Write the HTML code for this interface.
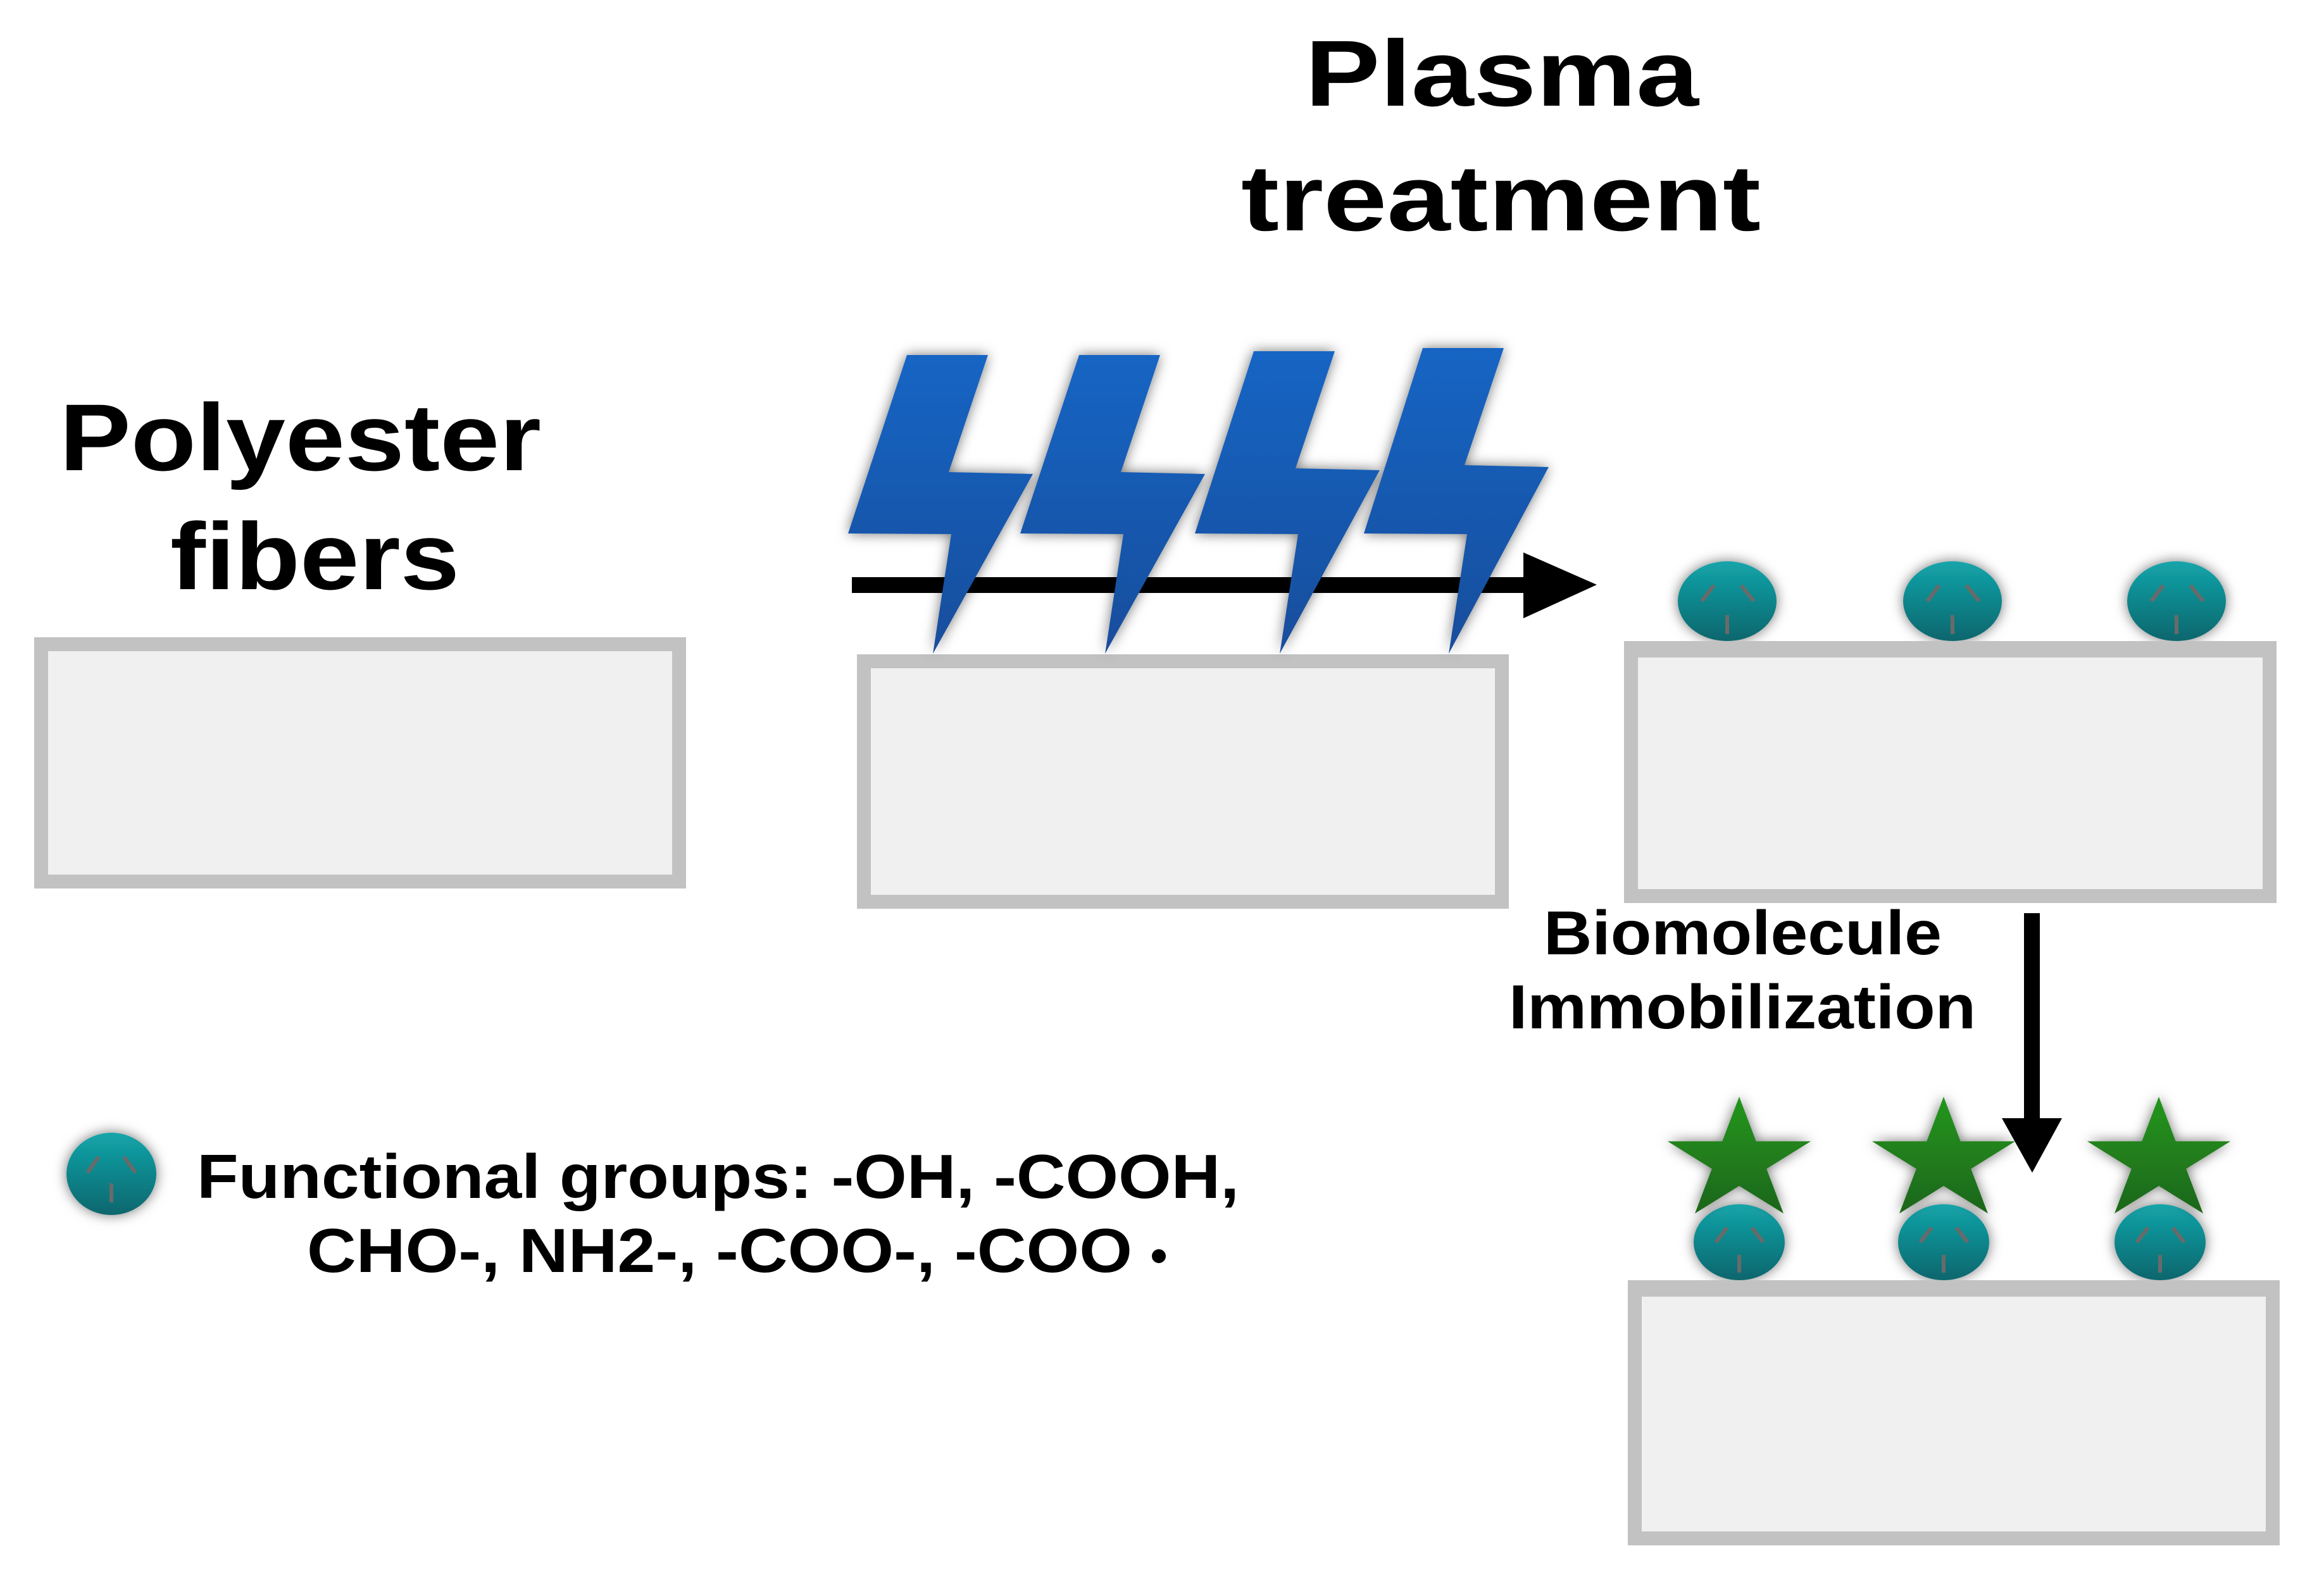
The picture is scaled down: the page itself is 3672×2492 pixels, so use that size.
<!DOCTYPE html>
<html><head><meta charset="utf-8"><style>html,body{margin:0;padding:0;background:#fff}svg{display:block}</style></head>
<body>
<svg width="3672" height="2492" viewBox="0 0 3672 2492" xmlns="http://www.w3.org/2000/svg">
<defs>
<linearGradient id="bolt" x1="0" y1="0" x2="0" y2="1"><stop offset="0" stop-color="#1565c4"/><stop offset="1" stop-color="#1a4d9c"/></linearGradient>
<linearGradient id="teal" x1="0" y1="0" x2="0" y2="1"><stop offset="0" stop-color="#13a5aa"/><stop offset="1" stop-color="#0a666d"/></linearGradient>
<linearGradient id="grn" x1="0" y1="0" x2="0" y2="1"><stop offset="0" stop-color="#23961f"/><stop offset="1" stop-color="#1e6619"/></linearGradient>
<filter id="sh" x="-30%" y="-30%" width="160%" height="160%"><feDropShadow dx="0" dy="0" stdDeviation="10" flood-color="#000" flood-opacity="0.55"/></filter>
<g id="mol">
<ellipse cx="0" cy="0" rx="1" ry="1" fill="url(#teal)"/>
</g>
</defs>

<!-- boxes -->
<g fill="#f0f0f0" stroke="#c2c2c2" stroke-width="22">
<rect x="65" y="1018" width="1008" height="375"/>
<rect x="1365" y="1045" width="1008" height="380"/>
<rect x="2577" y="1026" width="1009" height="390"/>
<rect x="2583" y="2036" width="1008" height="395"/>
</g>

<!-- molecules on box3 -->
<g filter="url(#sh)">
<ellipse cx="2729" cy="950" rx="78" ry="63" fill="url(#teal)"/>
<ellipse cx="3085" cy="950" rx="78" ry="63" fill="url(#teal)"/>
<ellipse cx="3439" cy="950" rx="78" ry="63" fill="url(#teal)"/>
</g>
<rect x="2566" y="1013" width="1031" height="26" fill="#c2c2c2"/>
<g stroke="#6a6a6a" stroke-width="6" stroke-linecap="butt">
<path d="M2708 925L2689 950M2751 925L2771 950M2729 972V1002"/>
<path d="M3064 925L3045 950M3107 925L3127 950M3085 972V1002"/>
<path d="M3418 925L3399 950M3461 925L3481 950M3439 972V1002"/>
</g>

<!-- arrow right -->
<rect x="1346" y="912" width="1066" height="25" fill="#000"/>
<polygon points="2407,873 2407,977 2523,924" fill="#000"/>

<!-- bolts -->
<g filter="url(#sh)" fill="url(#bolt)">
<polygon points="1433,561 1561,561 1499,746 1632,749 1474,1033 1503,844 1340,843"/>
<polygon transform="translate(272,0)" points="1433,561 1561,561 1499,746 1632,749 1474,1033 1503,844 1340,843"/>
<polygon transform="translate(548,-6)" points="1433,561 1561,561 1499,746 1632,749 1474,1039 1503,850 1340,849"/>
<polygon transform="translate(815,-11)" points="1433,561 1561,561 1499,746 1632,749 1474,1044 1503,855 1340,854"/>
</g>

<!-- molecules + stars on box4 -->
<g filter="url(#sh)">
<ellipse cx="2748" cy="1963" rx="72" ry="60" fill="url(#teal)"/>
<ellipse cx="3071" cy="1963" rx="72" ry="60" fill="url(#teal)"/>
<ellipse cx="3413" cy="1963" rx="72" ry="60" fill="url(#teal)"/>
</g>
<rect x="2572" y="2023" width="1030" height="26" fill="#c2c2c2"/>
<g stroke="#6a6a6a" stroke-width="6">
<path d="M2729 1940L2711 1963M2768 1940L2786 1963M2748 1983V2011"/>
<path d="M3052 1940L3034 1963M3091 1940L3109 1963M3071 1983V2011"/>
<path d="M3394 1940L3376 1963M3433 1940L3451 1963M3413 1983V2011"/>
</g>
<g filter="url(#sh)" fill="url(#grn)">
<polygon transform="translate(2748,1835) scale(119,102)" points="0,-1 0.2245,-0.309 0.951,-0.309 0.363,0.118 0.588,0.809 0,0.382 -0.588,0.809 -0.363,0.118 -0.951,-0.309 -0.2245,-0.309"/>
<polygon transform="translate(3071,1835) scale(119,102)" points="0,-1 0.2245,-0.309 0.951,-0.309 0.363,0.118 0.588,0.809 0,0.382 -0.588,0.809 -0.363,0.118 -0.951,-0.309 -0.2245,-0.309"/>
<polygon transform="translate(3411,1835) scale(119,102)" points="0,-1 0.2245,-0.309 0.951,-0.309 0.363,0.118 0.588,0.809 0,0.382 -0.588,0.809 -0.363,0.118 -0.951,-0.309 -0.2245,-0.309"/>
</g>

<!-- down arrow -->
<rect x="3198" y="1443" width="25" height="330" fill="#000"/>
<polygon points="3163,1767 3258,1767 3211,1853" fill="#000"/>

<!-- legend molecule -->
<ellipse cx="176" cy="1855" rx="71" ry="65" fill="url(#teal)" filter="url(#sh)"/>
<g stroke="#6a6a6a" stroke-width="6"><path d="M156 1828L138 1853M196 1828L214 1853M176 1870V1900"/></g>

<!-- text -->
<g font-family="Liberation Sans, Arial, sans-serif" font-weight="bold" fill="#000">
<text x="2062" y="167" font-size="148" textLength="622" lengthAdjust="spacingAndGlyphs">Plasma</text>
<text x="1961" y="364" font-size="148" textLength="821" lengthAdjust="spacingAndGlyphs">treatment</text>
<text x="94" y="743" font-size="150" textLength="761" lengthAdjust="spacingAndGlyphs">Polyester</text>
<text x="269" y="931" font-size="150" textLength="457" lengthAdjust="spacingAndGlyphs">fibers</text>
<text x="2439" y="1508" font-size="98" textLength="629" lengthAdjust="spacingAndGlyphs">Biomolecule</text>
<text x="2384" y="1625" font-size="98" textLength="738" lengthAdjust="spacingAndGlyphs">Immobilization</text>
<text x="311" y="1893" font-size="98" textLength="1647" lengthAdjust="spacingAndGlyphs">Functional groups: -OH, -COOH,</text>
<text x="485" y="2010" font-size="98" textLength="1304" lengthAdjust="spacingAndGlyphs">CHO-, NH2-, -COO-, -COO</text>
<circle cx="1831" cy="1985" r="11" fill="#000"/>
</g>
</svg>
</body></html>
